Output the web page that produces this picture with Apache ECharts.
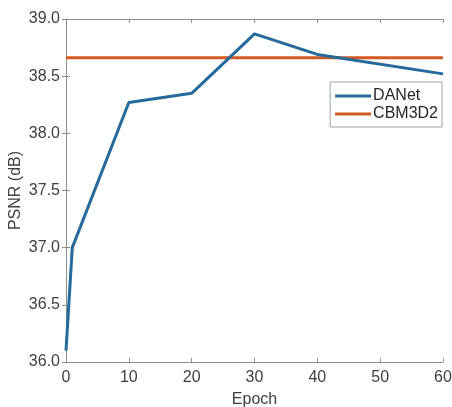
<!DOCTYPE html>
<html>
<head>
<meta charset="utf-8">
<script src="https://cdn.jsdelivr.net/npm/echarts@6/dist/echarts.min.js"></script>
<style>
  html, body { margin: 0; padding: 0; background: #fff; }
  #char { width: 452px; height: 407px; }
</style>
</head>
<body>
<div id="char"></div>
<script>
// data
var epochs = [0, 1, 10, 20, 30, 40, 60]
var danet = [36.1, 37.0, 38.27, 38.35, 38.87, 38.69, 38.52]
var cbmEpochs = [0, 60]
var cbm3d2 = [38.66, 38.66]
var xTicks = { min: 0, max: 60, step: 10 }
var yTicks = { min: 36, max: 39, step: 0.5 }

var pair = function (xs, ys) {
  return xs.map(function (x, i) { return [x, ys[i]] })
}

var axisColor = '#8c8c8c'
var textColor = '#404040'
var font = 'Liberation Sans, Arial, sans-serif'

var myChart = echarts.init(document.getElementById('char'))
var option = {
  animation: false,
  grid: { left: 66, right: 9, top: 19, bottom: 45, outerBoundsMode: 'none' },
  legend: {
    orient: 'vertical',
    right: 10,
    top: 82,
    itemWidth: 36,
    itemHeight: 3,
    itemGap: 2,
    icon: 'rect',
    padding: [6, 4, 5, 5],
    borderColor: '#a0a0a0',
    borderWidth: 1,
    backgroundColor: '#fff',
    textStyle: { fontFamily: font, fontSize: 16, color: '#262626', padding: [0, 0, 0, -3] },
    data: ['DANet', 'CBM3D2']
  },
  xAxis: [
    {
      type: 'value',
      min: xTicks.min,
      max: xTicks.max,
      interval: xTicks.step,
      name: 'Epoch',
      nameLocation: 'middle',
      nameGap: 30,
      nameMoveOverlap: false,
      nameTextStyle: { fontFamily: font, fontSize: 16, color: textColor },
      axisLine: { lineStyle: { color: axisColor } },
      axisTick: { inside: true, length: 4, lineStyle: { color: axisColor } },
      axisLabel: { fontFamily: font, fontSize: 16, color: textColor, margin: 8 },
      splitLine: { show: false }
    },
    {
      type: 'value',
      position: 'top',
      min: xTicks.min,
      max: xTicks.max,
      interval: xTicks.step,
      axisLine: { lineStyle: { color: axisColor } },
      axisTick: { inside: true, length: 4, lineStyle: { color: axisColor } },
      axisLabel: { show: false },
      splitLine: { show: false }
    }
  ],
  yAxis: [
    {
      type: 'value',
      min: yTicks.min,
      max: yTicks.max,
      interval: yTicks.step,
      name: 'PSNR (dB)',
      nameLocation: 'middle',
      nameGap: 42,
      nameMoveOverlap: false,
      nameTextStyle: { fontFamily: font, fontSize: 16, color: textColor },
      axisLine: { show: true, lineStyle: { color: axisColor } },
      axisTick: { show: true, inside: true, length: 4, lineStyle: { color: axisColor } },
      axisLabel: {
        fontFamily: font, fontSize: 16, color: textColor, margin: 6,
        formatter: function (v) { return v.toFixed(1) }
      },
      splitLine: { show: false }
    },
    {
      type: 'value',
      position: 'right',
      min: yTicks.min,
      max: yTicks.max,
      interval: yTicks.step,
      axisLine: { show: true, lineStyle: { color: axisColor } },
      axisTick: { show: true, inside: true, length: 4, lineStyle: { color: axisColor } },
      axisLabel: { show: false },
      splitLine: { show: false }
    }
  ],
  series: [
    {
      name: 'DANet',
      type: 'line',
      showSymbol: false,
      color: '#246a9c',
      lineStyle: { width: 3, color: '#246a9c' },
      data: pair(epochs, danet),
      z: 3
    },
    {
      name: 'CBM3D2',
      type: 'line',
      showSymbol: false,
      color: '#d35a22',
      lineStyle: { width: 3, color: '#d35a22' },
      data: pair(cbmEpochs, cbm3d2),
      z: 2
    }
  ]
}
myChart.setOption(option)
</script>
</body>
</html>
